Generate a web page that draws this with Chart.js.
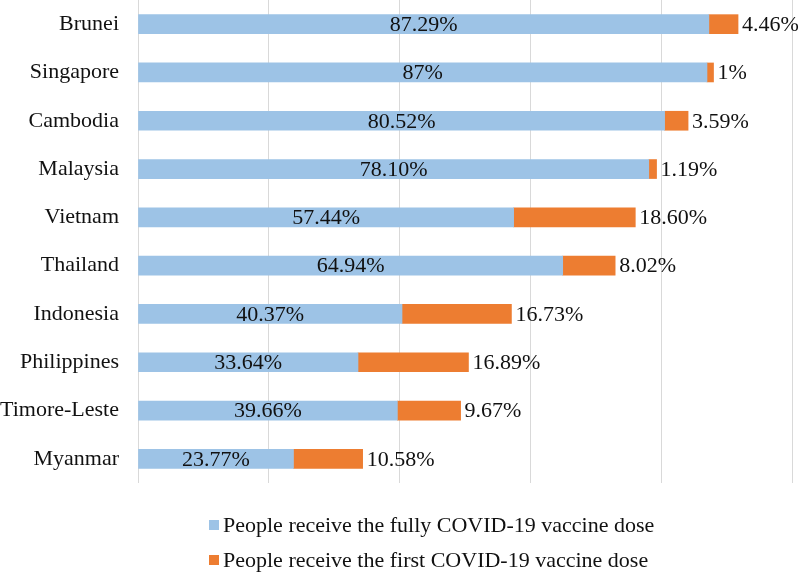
<!DOCTYPE html>
<html lang="en">
<head>
    <meta charset="UTF-8">
    <title>COVID-19 vaccine doses in ASEAN</title>
    <script src="https://cdn.jsdelivr.net/npm/chart.js"></script>
    <style>
        html, body { margin: 0; padding: 0; background: #fff; }
        .wrap { width: 800px; height: 574px; }
    </style>
</head>
<body>
    <div class="wrap">
        <canvas id="vaccineChart" width="800" height="574"></canvas>
    </div>

    <script>
        const countries = ['Brunei', 'Singapore', 'Cambodia', 'Malaysia', 'Vietnam', 'Thailand',
                           'Indonesia', 'Philippines', 'Timore-Leste', 'Myanmar'];
        const fullDose = [87.29, 87, 80.52, 78.10, 57.44, 64.94, 40.37, 33.64, 39.66, 23.77];
        const firstDose = [4.46, 1, 3.59, 1.19, 18.60, 8.02, 16.73, 16.89, 9.67, 10.58];
        const seriesNames = ['People receive the fully COVID-19 vaccine dose',
                             'People receive the first COVID-19 vaccine dose'];
        const xTicks = [0, 20, 40, 60, 80, 100];

        const FONT = '"Liberation Serif", "Times New Roman", serif';

        function fmt(v) {
            return (Number.isInteger(v) ? String(v) : v.toFixed(2)) + '%';
        }

        // value labels: inside-centre for the first series, just after the bar for the second
        const barLabels = {
            id: 'barLabels',
            afterDatasetsDraw(chart) {
                const ctx = chart.ctx;
                ctx.save();
                ctx.font = '22px ' + FONT;
                ctx.fillStyle = '#111';
                ctx.textBaseline = 'middle';
                chart.data.datasets.forEach((ds, di) => {
                    const meta = chart.getDatasetMeta(di);
                    meta.data.forEach((bar, i) => {
                        const txt = fmt(ds.data[i]);
                        if (di === 0) {
                            ctx.textAlign = 'center';
                            ctx.fillText(txt, (bar.x + bar.base) / 2, bar.y + 1);
                        } else {
                            ctx.textAlign = 'left';
                            ctx.fillText(txt, bar.x + 4, bar.y + 1);
                        }
                    });
                });
                ctx.restore();
            }
        };

        // legend: two rows, left aligned
        const stackedLegend = {
            id: 'stackedLegend',
            afterDraw(chart) {
                const ctx = chart.ctx;
                ctx.save();
                ctx.font = '22px ' + FONT;
                ctx.textBaseline = 'middle';
                ctx.textAlign = 'left';
                chart.data.datasets.forEach((ds, i) => {
                    const y = 525 + i * 35;
                    ctx.fillStyle = ds.backgroundColor;
                    ctx.fillRect(209, y - 5, 10, 10);
                    ctx.fillStyle = '#111';
                    ctx.fillText(ds.label, 223, y + 1);
                });
                ctx.restore();
            }
        };

        new Chart(document.getElementById('vaccineChart'), {
            type: 'bar',
            data: {
                labels: countries,
                datasets: [{
                    label: seriesNames[0],
                    data: fullDose,
                    backgroundColor: '#9dc3e6',
                    barThickness: 19
                }, {
                    label: seriesNames[1],
                    data: firstDose,
                    backgroundColor: '#ed7d31',
                    barThickness: 19
                }]
            },
            options: {
                indexAxis: 'y',
                responsive: false,
                animation: false,
                layout: { padding: { top: 0, right: 8, bottom: 91, left: 0 } },
                plugins: {
                    legend: { display: false },
                    tooltip: { enabled: false }
                },
                scales: {
                    x: {
                        stacked: true,
                        min: 0,
                        max: 100,
                        afterBuildTicks: s => { s.ticks = xTicks.map(v => ({ value: v })); },
                        ticks: { display: false },
                        grid: { color: '#d9d9d9', lineWidth: 1, drawTicks: false },
                        border: { display: false }
                    },
                    y: {
                        stacked: true,
                        afterFit: s => {
                            s.width = 138;
                            s.paddingTop = 0;
                            s.paddingBottom = 0;
                        },
                        grid: { display: false, drawTicks: false },
                        border: { display: false },
                        ticks: {
                            color: '#111',
                            padding: 19,
                            font: { family: FONT, size: 22 }
                        }
                    }
                }
            },
            plugins: [barLabels, stackedLegend]
        });
    </script>
</body>
</html>
